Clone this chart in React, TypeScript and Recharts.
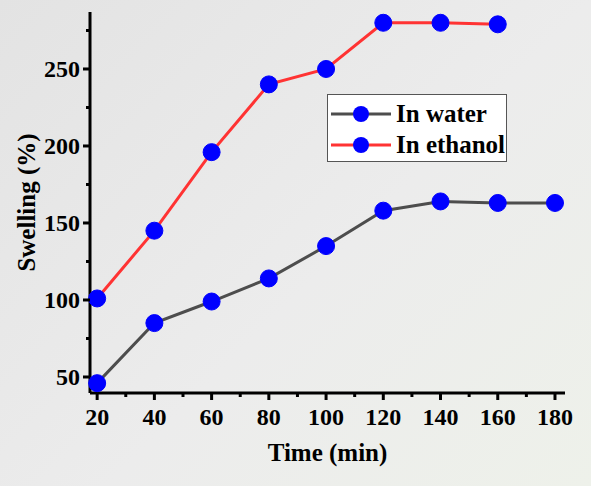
import React from 'react'
import { LineChart, Line, XAxis, YAxis } from 'recharts'

const TIMES = [20, 40, 60, 80, 100, 120, 140, 160, 180]
const WATER = [46, 85, 99, 114, 135, 158, 164, 163, 163]
const ETHANOL = [101, 145, 196, 240, 250, 280, 280, 279, null]

const X_TICKS = [20, 30, 40, 50, 60, 70, 80, 90, 100, 110, 120, 130, 140, 150, 160, 170, 180]
const Y_TICKS = [50, 75, 100, 125, 150, 175, 200, 225, 250, 275]

const SERIES = [
  { key: 'water', name: 'In water', color: '#4d4d4d' },
  { key: 'ethanol', name: 'In ethanol', color: '#ff3333' },
]

const FONT = '"Liberation Serif", "Times New Roman", serif'
const MAJOR = 7
const MINOR = 4
const GAP = 4

const data = TIMES.map((t, i) => ({ t, water: WATER[i], ethanol: ETHANOL[i] }))

function YTick(props: any) {
  const { x, y, payload } = props
  const ax = x + MAJOR + GAP
  const major = payload.value % 50 === 0
  return (
    <g>
      <line x1={ax - (major ? MAJOR : MINOR)} x2={ax} y1={y} y2={y} stroke="#000" strokeWidth={3} />
      {major && (
        <text x={ax - MAJOR - 3} y={y} dy={8} textAnchor="end" fontFamily={FONT} fontWeight={700} fontSize={24} fill="#000">
          {payload.value}
        </text>
      )}
    </g>
  )
}

function XTick(props: any) {
  const { x, y, payload } = props
  const ay = y - MAJOR - GAP
  const major = payload.value % 20 === 0
  return (
    <g>
      <line x1={x} x2={x} y1={ay} y2={ay + (major ? MAJOR : MINOR)} stroke="#000" strokeWidth={3} />
      {major && (
        <text x={x} y={ay + 32} textAnchor="middle" fontFamily={FONT} fontWeight={700} fontSize={24} fill="#000">
          {payload.value}
        </text>
      )}
    </g>
  )
}

function LegendBox() {
  return (
    <div style={styles.legend}>
      {SERIES.map(s => (
        <div key={s.key} style={styles.legendRow}>
          <svg width={62} height={20} style={{ marginRight: 4 }}>
            <line x1={1} x2={61} y1={10} y2={10} stroke={s.color} strokeWidth={3} />
            <circle cx={31} cy={10} r={8} fill="#0000ff" />
          </svg>
          <span>{s.name}</span>
        </div>
      ))}
    </div>
  )
}

export default function App() {
  return (
    <div style={styles.page}>
      <LineChart width={591} height={486} data={data} margin={{ top: 12, right: 26, bottom: 23, left: 30 }}>
        <XAxis
          dataKey="t" type="number" domain={[17.5, 183.5]} ticks={X_TICKS} interval={0}
          axisLine={{ stroke: '#000', strokeWidth: 3 }} tickLine={false} tickSize={MAJOR} tickMargin={GAP}
          tick={<XTick />} height={70}
          label={{ value: 'Time (min)', position: 'insideBottom', offset: 2, fontFamily: FONT, fontWeight: 700, fontSize: 25, fill: '#000' }}
        />
        <YAxis
          type="number" domain={[39.6, 287]} ticks={Y_TICKS} interval={0} allowDataOverflow
          axisLine={{ stroke: '#000', strokeWidth: 3 }} tickLine={false} tickSize={MAJOR} tickMargin={GAP}
          tick={<YTick />} width={60}
          label={{ value: 'Swelling (%)', angle: -90, position: 'insideLeft', offset: -4, fontFamily: FONT, fontWeight: 700, fontSize: 25, fill: '#000', style: { textAnchor: 'middle' } }}
        />
        {SERIES.map(s => (
          <Line
            key={s.key} dataKey={s.key} name={s.name} stroke={s.color} strokeWidth={3}
            dot={{ r: 8.5, fill: '#0000ff', stroke: '#0000ff', strokeWidth: 1 }} activeDot={false}
            isAnimationActive={false} connectNulls={false}
          />
        ))}
      </LineChart>
      <LegendBox />
    </div>
  )
}

const styles: Record<string, React.CSSProperties> = {
  page: {
    position: 'absolute', left: 0, top: 0, width: 591, height: 486,
    background: 'linear-gradient(135deg, #e3e3e3 0%, #ececec 55%, #eef1ea 100%)',
  },
  legend: {
    position: 'absolute', left: 327, top: 94,
    background: '#fff', border: '1.5px solid #555', width: 180, height: 68,
    boxSizing: 'border-box', padding: '3px 0 0 2px',
    fontFamily: FONT, fontWeight: 700, fontSize: 25, color: '#000',
  },
  legendRow: { display: 'flex', alignItems: 'center', height: 31, lineHeight: '31px' },
}
